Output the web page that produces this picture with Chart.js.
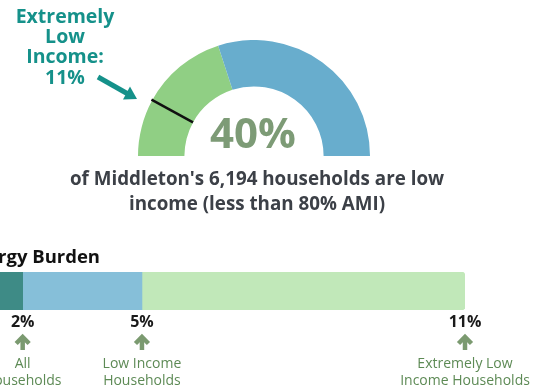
<!DOCTYPE html>
<html>
<head>
<meta charset="utf-8">
<script src="https://cdn.jsdelivr.net/npm/chart.js@4.4.1/dist/chart.umd.min.js"></script>
<style>
  body { margin: 0; width: 547px; height: 389px; overflow: hidden; background: #fff; position: relative; font-family: 'Open Sans', sans-serif; }
  canvas { position: absolute; }
  #gauge { left: 138px; top: 40px; }
  #bar { left: -32px; top: 240px; }
  svg { position: absolute; left: 0; top: 0; }
</style>
</head>
<body>
<canvas id="gauge" width="232" height="116"></canvas>
<canvas id="bar" width="600" height="149"></canvas>
<svg width="547" height="389" font-family="'Open Sans', sans-serif">
  <g fill="#15918a" font-weight="bold" font-size="19.5" text-anchor="middle">
    <text x="65" y="23">Extremely</text>
    <text x="65" y="43">Low</text>
    <text x="65" y="63">Income:</text>
    <text x="65" y="84">11%</text>
  </g>
  <line x1="98" y1="77" x2="128" y2="94" stroke="#15918a" stroke-width="5"/>
  <polygon points="137,99 123,99.5 130,86.5" fill="#15918a"/>
  <text x="253" y="148" fill="#7d9b76" font-weight="bold" font-size="42" text-anchor="middle">40%</text>
  <g fill="#3c4047" font-weight="bold" font-size="18.8" text-anchor="middle">
    <text x="257" y="185">of Middleton's 6,194 households are low</text>
    <text x="257" y="210">income (less than 80% AMI)</text>
  </g>
  <text x="100" y="263" fill="#111" font-weight="bold" font-size="18.5" text-anchor="end">Energy Burden</text>
</svg>
<script>
// gauge: share of the half ring
const gaugeLabels = ['Extremely low income', 'Other low income', 'Not low income'];
const gaugeValues = [16, 24, 60];
const gaugeColors = ['#90cf84', '#90cf84', '#68adcd'];

// energy burden bar
const burdenLabels = ['All Households', 'Low Income Households', 'Extremely Low Income Households'];
const burdenValues = [2, 5, 11];          // percent shown under the bar
const burdenShares = [11, 24, 65];        // share of bar length per segment
const burdenLines = [['All', 'Households'], ['Low Income', 'Households'], ['Extremely Low', 'Income Households']];
const burdenColors = ['#3e8b86', '#86bfd9', '#c1e8b9'];

// black tick at the end of the first arc
const dividerPlugin = {
    id: 'divider',
    afterDatasetsDraw(chart) {
        const arc = chart.getDatasetMeta(0).data[0];
        if (!arc) return;
        const { x, y, endAngle, innerRadius, outerRadius } = arc.getProps(['x', 'y', 'endAngle', 'innerRadius', 'outerRadius'], true);
        const ctx = chart.ctx;
        ctx.save();
        ctx.strokeStyle = '#111';
        ctx.lineWidth = 2.5;
        ctx.beginPath();
        ctx.moveTo(x + Math.cos(endAngle) * innerRadius, y + Math.sin(endAngle) * innerRadius);
        ctx.lineTo(x + Math.cos(endAngle) * (outerRadius + 1), y + Math.sin(endAngle) * (outerRadius + 1));
        ctx.stroke();
        ctx.restore();
    }
};

new Chart(document.getElementById('gauge'), {
    type: 'doughnut',
    data: {
        labels: gaugeLabels,
        datasets: [{ data: gaugeValues, backgroundColor: gaugeColors, borderWidth: 0, hoverOffset: 0 }]
    },
    options: {
        responsive: false,
        animation: false,
        rotation: -90,
        circumference: 180,
        cutout: '60%',
        plugins: { legend: { display: false }, tooltip: { enabled: false } }
    },
    plugins: [dividerPlugin]
});

// value labels, arrows and captions under each segment end
const markerPlugin = {
    id: 'markers',
    afterDraw(chart) {
        const ctx = chart.ctx;
        const xs = chart.scales.x;
        let sum = 0;
        ctx.save();
        ctx.textAlign = 'center';
        burdenShares.forEach((v, i) => {
            sum += v;
            const px = xs.getPixelForValue(sum);
            ctx.fillStyle = '#1a1a1a';
            ctx.font = 'bold 16px "Open Sans"';
            ctx.fillText(burdenValues[i] + '%', px, 87);

            ctx.strokeStyle = '#7b9a70';
            ctx.lineWidth = 4.5;
            ctx.lineJoin = 'miter';
            ctx.beginPath();
            ctx.moveTo(px, 110);
            ctx.lineTo(px, 97);
            ctx.stroke();
            ctx.beginPath();
            ctx.moveTo(px - 6.5, 103.5);
            ctx.lineTo(px, 97);
            ctx.lineTo(px + 6.5, 103.5);
            ctx.stroke();

            ctx.fillStyle = '#5d8a55';
            ctx.font = '14px "Open Sans"';
            ctx.fillText(burdenLines[i][0], px, 128);
            ctx.fillText(burdenLines[i][1], px, 145);
        });
        ctx.restore();
    }
};

new Chart(document.getElementById('bar'), {
    type: 'bar',
    data: {
        labels: ['Energy Burden'],
        datasets: burdenShares.map((v, i) => ({
            label: burdenLabels[i],
            data: [v],
            backgroundColor: burdenColors[i],
            borderWidth: 0,
            borderRadius: i === burdenShares.length - 1 ? 4 : 0,
            borderSkipped: i === burdenShares.length - 1 ? 'left' : false,
            barPercentage: 1,
            categoryPercentage: 1
        }))
    },
    options: {
        indexAxis: 'y',
        responsive: false,
        animation: false,
        layout: { padding: { left: 0, right: 103, top: 32, bottom: 79 } },
        scales: {
            x: { stacked: true, display: false, min: 0, max: 100 },
            y: { stacked: true, display: false }
        },
        plugins: { legend: { display: false }, tooltip: { enabled: false } }
    },
    plugins: [markerPlugin]
});
</script>
</body>
</html>
